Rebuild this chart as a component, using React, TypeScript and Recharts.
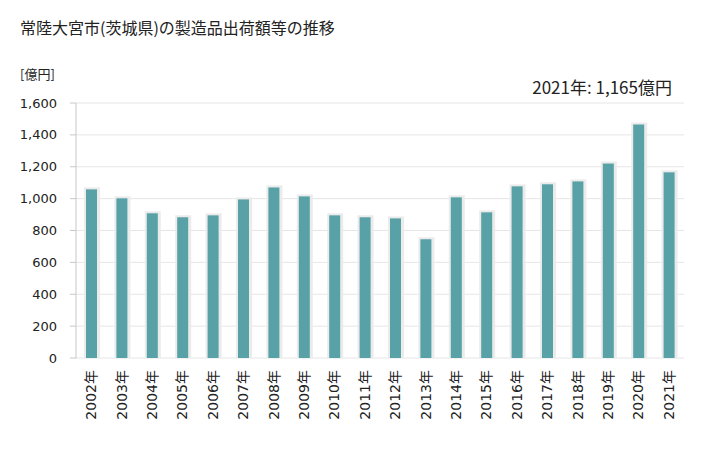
import React from 'react';
import { BarChart, Bar, XAxis, YAxis, CartesianGrid } from 'recharts';

const years = [
  '2002年', '2003年', '2004年', '2005年', '2006年', '2007年', '2008年', '2009年', '2010年', '2011年',
  '2012年', '2013年', '2014年', '2015年', '2016年', '2017年', '2018年', '2019年', '2020年', '2021年',
];
const amounts = [
  1058, 1002, 908, 883, 895, 995, 1070, 1014, 895, 883,
  876, 745, 1008, 914, 1077, 1090, 1108, 1220, 1465, 1165,
];
const yTicks = [0, 200, 400, 600, 800, 1000, 1200, 1400, 1600];
const boundaryTicks = Array.from({ length: years.length + 1 }, (_, i) => i);

const data = years.map((year, i) => ({ year, value: amounts[i], pos: i + 0.5 }));

const numFont = '"DejaVu Sans", Verdana, "Noto Sans CJK JP", sans-serif';
const jpFont = '"Noto Sans CJK JP", "Noto Sans", sans-serif';

// bar with a soft grey halo, like the original
function ShadowBar(props: any) {
  const { x, y, width, height } = props;
  if (height <= 0) return null;
  return (
    <g>
      <rect x={x - 2} y={y - 2} width={width + 5} height={height + 2} fill="#ebebeb" />
      <rect x={x} y={y} width={width} height={height} fill="#58a1a7" />
    </g>
  );
}

function YearTick(props: any) {
  const { x, y, payload } = props;
  return (
    <text
      x={x}
      y={y}
      transform={`rotate(-90 ${x} ${y})`}
      textAnchor="end"
      dy={5}
      dx={-4}
      fill="#222"
      style={{ fontFamily: numFont, fontSize: 14 }}
    >
      {payload.value}
    </text>
  );
}

export default function App() {
  return (
    <div style={{ position: 'absolute', left: 0, top: 0, width: 728, height: 450, background: '#fff' }}>
      <div
        style={{
          position: 'absolute', left: 20, top: 15, fontSize: 16, color: '#222',
          fontFamily: jpFont, lineHeight: '24px', whiteSpace: 'nowrap',
        }}
      >
        常陸大宮市(茨城県)の製造品出荷額等の推移
      </div>
      <div
        style={{
          position: 'absolute', left: 20, top: 65, fontSize: 13, color: '#222',
          fontFamily: jpFont, lineHeight: '18px',
        }}
      >
        [億円]
      </div>
      <div
        style={{
          position: 'absolute', right: 56, top: 74, fontSize: 17, color: '#222',
          fontFamily: jpFont, lineHeight: '26px', whiteSpace: 'nowrap',
        }}
      >
        2021年: 1,165億円
      </div>
      <BarChart
        width={728}
        height={450}
        data={data}
        margin={{ top: 103, right: 44, left: 0, bottom: 0 }}
        barCategoryGap={0}
      >
        <CartesianGrid vertical={false} stroke="#e6e6e6" />
        <XAxis
          xAxisId="edge"
          dataKey="pos"
          type="number"
          domain={[0, years.length]}
          ticks={boundaryTicks}
          tick={false}
          height={0}
          axisLine={{ stroke: '#888' }}
          tickLine={{ stroke: '#888' }}
          tickSize={6}
        />
        <XAxis
          xAxisId="cat"
          dataKey="year"
          interval={0}
          height={92}
          axisLine={false}
          tickLine={false}
          tick={<YearTick />}
        />
        <YAxis
          width={76}
          domain={[0, 1600]}
          ticks={yTicks}
          interval={0}
          axisLine={{ stroke: '#c8c8c8' }}
          tickLine={{ stroke: '#c8c8c8' }}
          tickSize={6}
          tickMargin={13}
          tickFormatter={(v: number) => v.toLocaleString('en-US')}
          tick={{ fill: '#222', fontSize: 13, fontFamily: numFont }}
        />
        <Bar
          xAxisId="cat"
          dataKey="value"
          barSize={11}
          shape={<ShadowBar />}
          isAnimationActive={false}
        />
      </BarChart>
    </div>
  );
}
